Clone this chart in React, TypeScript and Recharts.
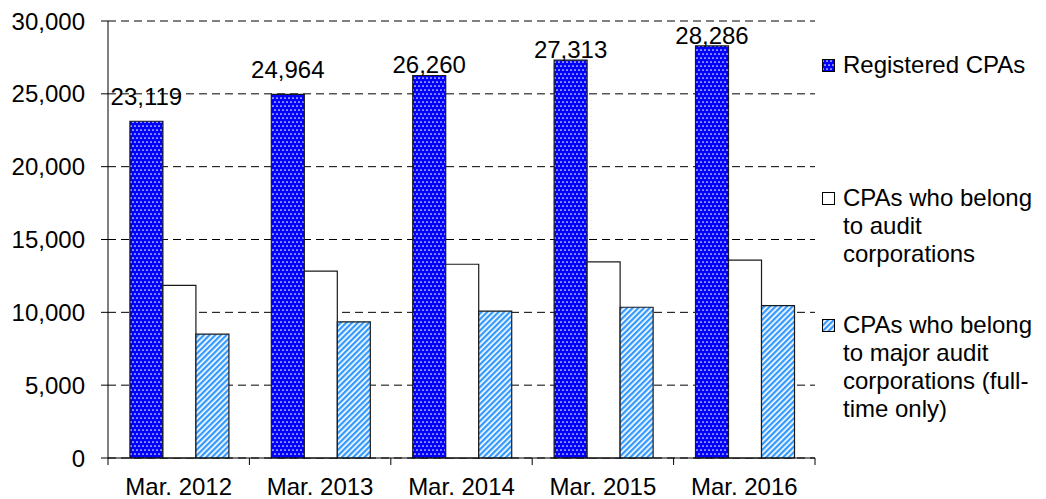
import React from "react";
import { BarChart, Bar, XAxis, YAxis, CartesianGrid, LabelList, Legend } from "recharts";

const periods = ["Mar. 2012", "Mar. 2013", "Mar. 2014", "Mar. 2015", "Mar. 2016"];
const registeredCpas = [23119, 24964, 26260, 27313, 28286];
const auditCorpCpas = [11850, 12830, 13300, 13470, 13580];
const majorAuditCpas = [8500, 9350, 10080, 10350, 10460];
const yTicks = [0, 5000, 10000, 15000, 20000, 25000, 30000];

const seriesNames = [
  "Registered CPAs",
  "CPAs who belong to audit corporations",
  "CPAs who belong to major audit corporations (full-time only)",
];

const data = periods.map((p, i) => ({
  period: p,
  registered: registeredCpas[i],
  audit: auditCorpCpas[i],
  major: majorAuditCpas[i],
}));

const FONT = "'Liberation Sans', Arial, sans-serif";
const FILLS = ["url(#cpaDots)", "#ffffff", "url(#cpaStripes)"];
const LEGEND_GAPS = [0, 105, 43];
// the first two value labels sit higher above their bars in the original
const LABEL_LIFT = [14, 14, 0, 0, 0];

const fmt = (v: number) => v.toLocaleString("en-US");

const PeriodTick = (props: any) => {
  const { x, y, payload, index, visibleTicksCount, width } = props;
  const half = width / visibleTicksCount / 2;
  return (
    <g>
      <line x1={x - half} x2={x - half} y1={y} y2={y + 7} stroke="#000" />
      {index === visibleTicksCount - 1 && (
        <line x1={x + half} x2={x + half} y1={y} y2={y + 7} stroke="#000" />
      )}
      <text x={x} y={y + 37} textAnchor="middle" fontSize={24} fontFamily={FONT} fill="#000">
        {payload.value}
      </text>
    </g>
  );
};

const ValueLabel = (props: any) => {
  const { x, y, width, value, index } = props;
  return (
    <text
      x={Number(x) + Number(width) / 2}
      y={Number(y) - 2 - (LABEL_LIFT[index] || 0)}
      textAnchor="middle"
      fontSize={24}
      fontFamily={FONT}
      fill="#000"
    >
      {fmt(Number(value))}
    </text>
  );
};

// legend drawn in series order (recharts sorts its payload by name)
const renderLegend = () => (
  <div style={{ fontFamily: FONT, fontSize: 24, lineHeight: "28px", color: "#000" }}>
    {seriesNames.map((name, i) => (
      <div key={name} style={{ display: "flex", alignItems: "flex-start", marginTop: LEGEND_GAPS[i] }}>
        <svg width={13} height={13} style={{ marginTop: 8, marginRight: 8, flex: "none" }}>
          <rect x={0.5} y={0.5} width={12} height={12} fill={FILLS[i]} stroke="#000" />
        </svg>
        <span style={{ width: 201 }}>{name}</span>
      </div>
    ))}
  </div>
);

export default function App() {
  return (
    <div style={{ position: "absolute", left: 0, top: 0, background: "#fff" }}>
      <BarChart
        width={1046}
        height={499}
        data={data}
        margin={{ top: 21, right: 231, bottom: 0, left: 0 }}
        barCategoryGap="15.5%"
        barGap={0}
      >
        <defs>
          <pattern id="cpaDots" width="4" height="8" patternUnits="userSpaceOnUse">
            <rect width="4" height="8" fill="#0000ff" />
            <circle cx="1" cy="2" r="0.85" fill="#ffffff" />
            <circle cx="3" cy="6" r="0.85" fill="#ffffff" />
          </pattern>
          <pattern id="cpaStripes" width="4" height="4" patternUnits="userSpaceOnUse" patternTransform="rotate(45)">
            <rect width="4" height="4" fill="#ffffff" />
            <rect width="2.3" height="4" fill="#3399ff" />
          </pattern>
        </defs>
        <CartesianGrid vertical={false} stroke="#000" strokeDasharray="8 5" />
        <XAxis
          dataKey="period"
          height={41}
          tickLine={false}
          tickSize={0}
          tickMargin={0}
          axisLine={{ stroke: "#000" }}
          tick={<PeriodTick />}
          interval={0}
        />
        <YAxis
          width={108}
          domain={[0, 30000]}
          ticks={yTicks}
          tickFormatter={fmt}
          tickSize={7}
          tickMargin={16}
          axisLine={{ stroke: "#000" }}
          tickLine={{ stroke: "#000" }}
          tick={{ fill: "#000", fontSize: 24, fontFamily: FONT }}
        />
        <Legend
          layout="horizontal"
          verticalAlign="middle"
          align="center"
          content={renderLegend}
          wrapperStyle={{ left: 822, top: 51, width: 224 }}
        />
        <Bar dataKey="registered" name={seriesNames[0]} fill={FILLS[0]} stroke="#1a1a1a" strokeWidth={1.2} isAnimationActive={false}>
          <LabelList dataKey="registered" content={<ValueLabel />} />
        </Bar>
        <Bar dataKey="audit" name={seriesNames[1]} fill={FILLS[1]} stroke="#1a1a1a" strokeWidth={1.2} isAnimationActive={false} />
        <Bar dataKey="major" name={seriesNames[2]} fill={FILLS[2]} stroke="#1a1a1a" strokeWidth={1.2} isAnimationActive={false} />
      </BarChart>
    </div>
  );
}
